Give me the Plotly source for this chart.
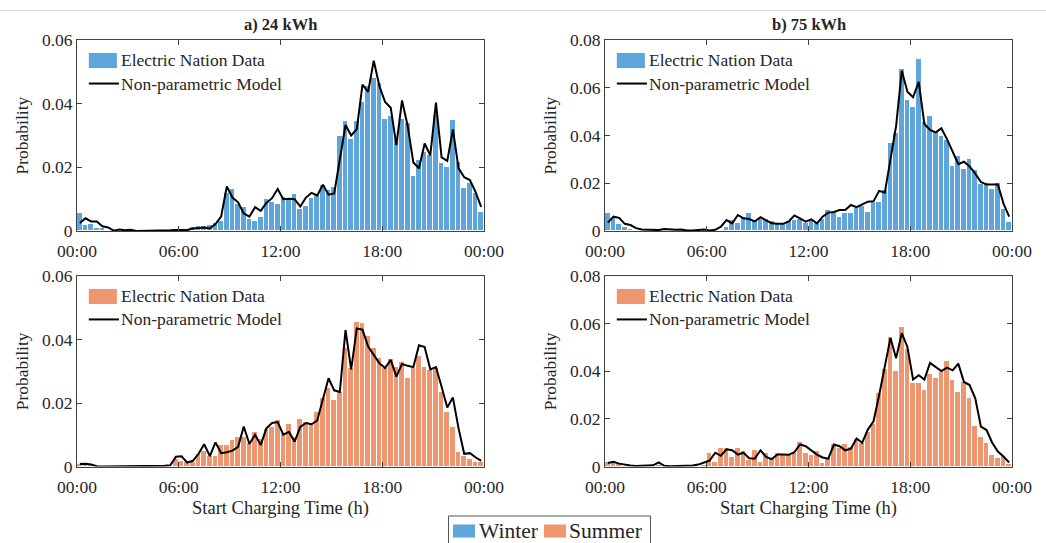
import plotly.graph_objects as go

# 20-minute start-time bins over one day (72 bins), x in hours
bin_centres = [(i + 0.5) / 3 for i in range(72)]

tick_hours = [0, 6, 12, 18, 24]
tick_labels = ["00:00", "06:00", "12:00", "18:00", "00:00"]

# ---- Winter, 24 kWh ----
winter_24_data = [
    0.0055, 0.0020, 0.0022, 0.0010, 0.0008, 0.0003, 0.0001, 0.0002, 0.0001, 0.0002, 0.0001, 0.0000,
    0.0001, 0.0000, 0.0000, 0.0001, 0.0001, 0.0002, 0.0003, 0.0005, 0.0012, 0.0015, 0.0016, 0.0018,
    0.0025, 0.0030, 0.0118, 0.0133, 0.0086, 0.0076, 0.0038, 0.0032, 0.0045, 0.0102, 0.0092, 0.0085,
    0.0108, 0.0105, 0.0116, 0.0068, 0.0077, 0.0105, 0.0112, 0.0146, 0.0130, 0.0138, 0.0300, 0.0345,
    0.0290, 0.0345, 0.0405, 0.0455, 0.0480, 0.0466, 0.0352, 0.0361, 0.0289, 0.0352, 0.0340, 0.0173,
    0.0223, 0.0249, 0.0239, 0.0364, 0.0215, 0.0202, 0.0349, 0.0216, 0.0136, 0.0150, 0.0118, 0.0061,
]
winter_24_model = [
    0.0025, 0.0040, 0.0030, 0.0030, 0.0015, 0.0011, 0.0001, 0.0005, 0.0002, 0.0004, 0.0000, 0.0000,
    0.0000, 0.0000, 0.0000, 0.0000, 0.0002, 0.0003, 0.0002, 0.0003, 0.0008, 0.0010, 0.0011, 0.0008,
    0.0022, 0.0045, 0.0140, 0.0105, 0.0090, 0.0055, 0.0045, 0.0075, 0.0063, 0.0088, 0.0103, 0.0132,
    0.0100, 0.0101, 0.0100, 0.0077, 0.0105, 0.0120, 0.0112, 0.0145, 0.0114, 0.0118, 0.0230, 0.0333,
    0.0300, 0.0320, 0.0460, 0.0437, 0.0535, 0.0455, 0.0405, 0.0387, 0.0270, 0.0410, 0.0330, 0.0215,
    0.0197, 0.0275, 0.0238, 0.0403, 0.0231, 0.0220, 0.0319, 0.0197, 0.0169, 0.0160, 0.0123, 0.0076,
]

# ---- Winter, 75 kWh ----
winter_75_data = [
    0.0074, 0.0053, 0.0029, 0.0018, 0.0010, 0.0005, 0.0003, 0.0004, 0.0002, 0.0003, 0.0006, 0.0003,
    0.0004, 0.0002, 0.0001, 0.0002, 0.0003, 0.0002, 0.0001, 0.0002, 0.0004, 0.0015, 0.0045, 0.0035,
    0.0060, 0.0075, 0.0045, 0.0050, 0.0050, 0.0040, 0.0030, 0.0035, 0.0040, 0.0045, 0.0049, 0.0032,
    0.0046, 0.0032, 0.0049, 0.0088, 0.0074, 0.0060, 0.0074, 0.0074, 0.0095, 0.0105, 0.0081, 0.0122,
    0.0122, 0.0170, 0.0370, 0.0410, 0.0677, 0.0550, 0.0520, 0.0720, 0.0458, 0.0480, 0.0416, 0.0400,
    0.0380, 0.0272, 0.0315, 0.0260, 0.0300, 0.0255, 0.0197, 0.0200, 0.0175, 0.0200, 0.0092, 0.0039,
]
winter_75_model = [
    0.0035, 0.0060, 0.0055, 0.0030, 0.0025, 0.0012, 0.0006, 0.0005, 0.0004, 0.0004, 0.0008, 0.0005,
    0.0005, 0.0006, 0.0002, 0.0002, 0.0004, 0.0006, 0.0002, 0.0005, 0.0018, 0.0046, 0.0032, 0.0067,
    0.0053, 0.0050, 0.0040, 0.0058, 0.0045, 0.0032, 0.0030, 0.0030, 0.0040, 0.0065, 0.0053, 0.0039,
    0.0049, 0.0032, 0.0060, 0.0077, 0.0080, 0.0088, 0.0088, 0.0109, 0.0100, 0.0110, 0.0123, 0.0125,
    0.0168, 0.0160, 0.0310, 0.0440, 0.0671, 0.0583, 0.0560, 0.0625, 0.0448, 0.0423, 0.0413, 0.0430,
    0.0385, 0.0330, 0.0280, 0.0290, 0.0270, 0.0240, 0.0205, 0.0195, 0.0195, 0.0195, 0.0115, 0.0060,
]

# ---- Summer, 24 kWh ----
summer_24_data = [
    0.0008, 0.0008, 0.0004, 0.0000, 0.0000, 0.0000, 0.0000, 0.0000, 0.0000, 0.0000, 0.0000, 0.0000,
    0.0000, 0.0000, 0.0000, 0.0001, 0.0003, 0.0023, 0.0018, 0.0013, 0.0013, 0.0040, 0.0050, 0.0034,
    0.0034, 0.0069, 0.0069, 0.0082, 0.0092, 0.0094, 0.0073, 0.0108, 0.0087, 0.0119, 0.0124, 0.0145,
    0.0105, 0.0133, 0.0092, 0.0150, 0.0140, 0.0137, 0.0172, 0.0217, 0.0246, 0.0211, 0.0235, 0.0373,
    0.0310, 0.0455, 0.0453, 0.0410, 0.0373, 0.0341, 0.0310, 0.0338, 0.0313, 0.0328, 0.0278, 0.0310,
    0.0349, 0.0313, 0.0304, 0.0310, 0.0235, 0.0172, 0.0125, 0.0045, 0.0034, 0.0025, 0.0015, 0.0013,
]
summer_24_model = [
    0.0008, 0.0009, 0.0006, 0.0001, 0.0000, 0.0000, 0.0000, 0.0000, 0.0000, 0.0000, 0.0000, 0.0000,
    0.0000, 0.0000, 0.0000, 0.0002, 0.0004, 0.0031, 0.0032, 0.0012, 0.0018, 0.0040, 0.0070, 0.0033,
    0.0076, 0.0042, 0.0045, 0.0050, 0.0062, 0.0126, 0.0071, 0.0100, 0.0068, 0.0120, 0.0137, 0.0140,
    0.0100, 0.0109, 0.0078, 0.0125, 0.0137, 0.0133, 0.0145, 0.0214, 0.0278, 0.0240, 0.0235, 0.0430,
    0.0306, 0.0435, 0.0431, 0.0378, 0.0350, 0.0325, 0.0310, 0.0336, 0.0283, 0.0323, 0.0317, 0.0313,
    0.0382, 0.0376, 0.0306, 0.0313, 0.0251, 0.0186, 0.0217, 0.0120, 0.0040, 0.0042, 0.0029, 0.0018,
]

# ---- Summer, 75 kWh ----
summer_75_data = [
    0.0017, 0.0017, 0.0010, 0.0003, 0.0002, 0.0001, 0.0001, 0.0002, 0.0002, 0.0008, 0.0002, 0.0001,
    0.0001, 0.0001, 0.0001, 0.0002, 0.0004, 0.0008, 0.0056, 0.0020, 0.0077, 0.0077, 0.0042, 0.0077,
    0.0066, 0.0028, 0.0070, 0.0020, 0.0056, 0.0035, 0.0056, 0.0050, 0.0050, 0.0056, 0.0105, 0.0056,
    0.0050, 0.0065, 0.0015, 0.0035, 0.0095, 0.0077, 0.0095, 0.0080, 0.0114, 0.0100, 0.0146, 0.0180,
    0.0307, 0.0411, 0.0545, 0.0401, 0.0585, 0.0495, 0.0351, 0.0349, 0.0321, 0.0390, 0.0370, 0.0397,
    0.0442, 0.0365, 0.0314, 0.0355, 0.0286, 0.0170, 0.0125, 0.0098, 0.0050, 0.0035, 0.0045, 0.0011,
]
summer_75_model = [
    0.0015, 0.0020, 0.0012, 0.0007, 0.0004, 0.0002, 0.0002, 0.0002, 0.0005, 0.0017, 0.0003, 0.0001,
    0.0001, 0.0001, 0.0002, 0.0004, 0.0008, 0.0016, 0.0025, 0.0058, 0.0045, 0.0072, 0.0068, 0.0050,
    0.0058, 0.0035, 0.0033, 0.0068, 0.0040, 0.0031, 0.0050, 0.0050, 0.0049, 0.0060, 0.0093, 0.0085,
    0.0066, 0.0050, 0.0038, 0.0033, 0.0092, 0.0085, 0.0068, 0.0075, 0.0118, 0.0100, 0.0155, 0.0190,
    0.0300, 0.0420, 0.0540, 0.0455, 0.0560, 0.0502, 0.0365, 0.0383, 0.0365, 0.0435, 0.0418, 0.0401,
    0.0415, 0.0404, 0.0432, 0.0355, 0.0342, 0.0286, 0.0167, 0.0153, 0.0100, 0.0063, 0.0042, 0.0017,
]

WINTER = "#5DA5DA"
SUMMER = "#EE9670"
INK = "#262626"
AXIS = "#404040"
FONT = "Liberation Serif"
W, H = 1046, 543


def fx(p):
    return p / W


def fy(p):
    return 1 - p / H


panels = [
    # (axis suffix, data, model, colour, x domain px, y domain px, y max, y ticks)
    ("", winter_24_data, winter_24_model, WINTER, (77, 484), (231, 40), 0.06, [0, 0.02, 0.04, 0.06]),
    ("2", winter_75_data, winter_75_model, WINTER, (605, 1012), (231, 40), 0.08, [0, 0.02, 0.04, 0.06, 0.08]),
    ("3", summer_24_data, summer_24_model, SUMMER, (77, 484), (466.5, 276), 0.06, [0, 0.02, 0.04, 0.06]),
    ("4", summer_75_data, summer_75_model, SUMMER, (605, 1012), (466.5, 276), 0.08, [0, 0.02, 0.04, 0.06, 0.08]),
]

fig = go.Figure()
layout = dict(
    width=W, height=H,
    margin=dict(l=0, r=0, t=0, b=0, autoexpand=False),
    paper_bgcolor="white", plot_bgcolor="white",
    showlegend=False, bargap=0,
    font=dict(family=FONT, color=INK, size=17),
)
annotations = []
shapes = []

for suf, data, model, colour, (x0, x1), (yb, yt), ymax, yticks in panels:
    xa, ya = "x" + suf, "y" + suf
    fig.add_trace(go.Bar(
        x=bin_centres, y=data, width=1 / 3, xaxis=xa, yaxis=ya,
        marker=dict(color=colour, line=dict(color="white", width=1)),
        name="Electric Nation Data",
    ))
    fig.add_trace(go.Scatter(
        x=bin_centres, y=model, mode="lines", xaxis=xa, yaxis=ya,
        line=dict(color="black", width=2), name="Non-parametric Model",
    ))
    common = dict(
        showline=True, linecolor=AXIS, linewidth=1, mirror="allticks",
        ticks="inside", ticklen=5, tickcolor=AXIS, showgrid=False, zeroline=False,
        automargin=False,
        tickfont=dict(family=FONT, size=17.5, color=INK),
    )
    layout["xaxis" + suf] = dict(
        common, domain=[fx(x0), fx(x1)], anchor=ya, range=[0, 24],
        tickvals=tick_hours, ticktext=tick_labels, ticklabelstandoff=4,
    )
    layout["yaxis" + suf] = dict(
        common, domain=[fy(yb), fy(yt)], anchor=xa, range=[0, ymax],
        tickvals=yticks, ticktext=["0"] + [f"{v:.2f}" for v in yticks[1:]],
    )

    # in-axes legend
    xd, yd = xa + " domain", ya + " domain"
    shapes.append(dict(type="rect", xref=xd, yref=yd, x0=0.029, x1=0.098, y0=0.853, y1=0.932,
                       fillcolor=colour, line=dict(width=0)))
    shapes.append(dict(type="line", xref=xd, yref=yd, x0=0.029, x1=0.103, y0=0.772, y1=0.772,
                       line=dict(color="black", width=2)))
    annotations.append(dict(xref=xd, yref=yd, x=0.104, y=0.893, text="Electric Nation Data",
                            showarrow=False, xanchor="left", yanchor="middle",
                            font=dict(family=FONT, size=17.5, color=INK)))
    annotations.append(dict(xref=xd, yref=yd, x=0.104, y=0.772, text="Non-parametric Model",
                            showarrow=False, xanchor="left", yanchor="middle",
                            font=dict(family=FONT, size=17.5, color=INK)))

    # y-axis title
    annotations.append(dict(xref="paper", yref="paper", x=fx(x0 - 55), y=fy((yb + yt) / 2),
                            text="Probability", textangle=-90, showarrow=False,
                            xanchor="center", yanchor="middle",
                            font=dict(family=FONT, size=17.5, color=INK)))

# panel titles
for text, cx in (("<b>a) 24 kWh</b>", 280.5), ("<b>b) 75 kWh</b>", 808.5)):
    annotations.append(dict(xref="paper", yref="paper", x=fx(cx), y=fy(25), text=text,
                            showarrow=False, xanchor="center", yanchor="middle",
                            font=dict(family=FONT, size=16.5, color=INK)))

# x-axis titles under the lower panels
for cx in (280.5, 808.5):
    annotations.append(dict(xref="paper", yref="paper", x=fx(cx), y=fy(508),
                            text="Start Charging Time (h)", showarrow=False,
                            xanchor="center", yanchor="middle",
                            font=dict(family=FONT, size=18.5, color=INK)))

# season legend box at the bottom
shapes.append(dict(type="rect", xref="paper", yref="paper", x0=fx(448.5), x1=fx(650.5),
                   y0=fy(548), y1=fy(516), line=dict(color="#555555", width=1), fillcolor="white"))
shapes.append(dict(type="rect", xref="paper", yref="paper", x0=fx(453), x1=fx(475),
                   y0=fy(537.5), y1=fy(524.5), fillcolor=WINTER, line=dict(width=0)))
shapes.append(dict(type="rect", xref="paper", yref="paper", x0=fx(544), x1=fx(566),
                   y0=fy(537.5), y1=fy(524.5), fillcolor=SUMMER, line=dict(width=0)))
annotations.append(dict(xref="paper", yref="paper", x=fx(476.5), y=fy(530.5), text="Winter",
                        showarrow=False, xanchor="left", yanchor="middle",
                        font=dict(family=FONT, size=21.5, color=INK)))
annotations.append(dict(xref="paper", yref="paper", x=fx(566.5), y=fy(530.5), text="Summer",
                        showarrow=False, xanchor="left", yanchor="middle",
                        font=dict(family=FONT, size=21.5, color=INK)))

# thin rule across the top of the figure
shapes.append(dict(type="line", xref="paper", yref="paper", x0=0, x1=1, y0=fy(10.5), y1=fy(10.5),
                   line=dict(color="#dddddd", width=1)))

layout["annotations"] = annotations
layout["shapes"] = shapes
fig.update_layout(**layout)

# page without the default body margin so the figure fills the window exactly
page_css = (
    "document.documentElement.style.margin='0';"
    "document.body.style.margin='0';"
    "document.body.style.padding='0';"
    "document.documentElement.style.overflow='hidden';"
)
fig.write_html("out.html", post_script=page_css, config={"responsive": False})
